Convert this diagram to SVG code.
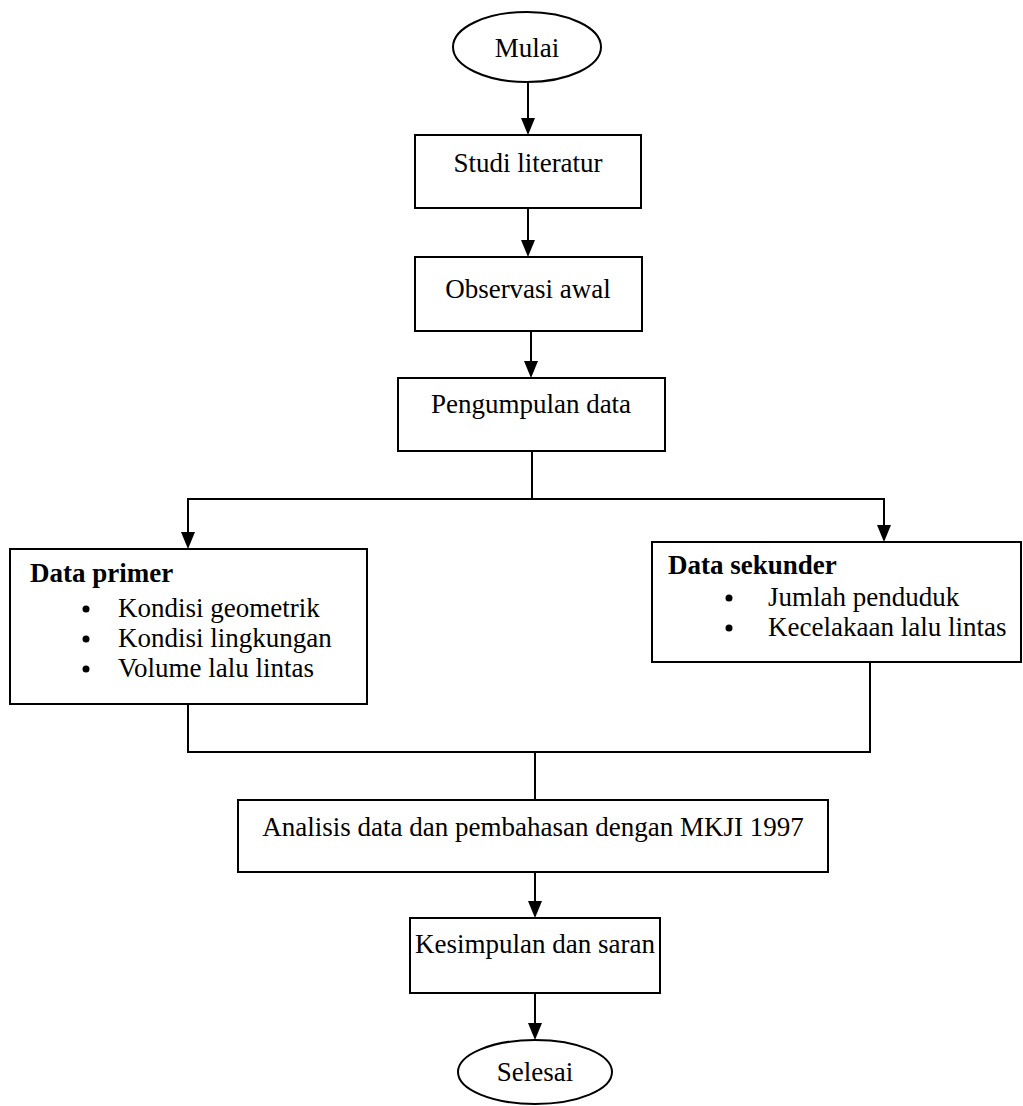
<svg xmlns="http://www.w3.org/2000/svg" width="1023" height="1106" viewBox="0 0 1023 1106">
<style>
.box{fill:#fff;stroke:#000;stroke-width:2}
.t{font-family:"Liberation Serif","Times New Roman",serif;font-size:27px;fill:#000}
.b{font-weight:bold}
.c{text-anchor:middle}
.ln{fill:none;stroke:#000;stroke-width:2}
.ah{fill:#000}
</style>
<defs>
<path id="arrow" d="M-7,-17 L7,-17 L0,0 Z"/>
</defs>
<rect width="1023" height="1106" fill="#fff"/>
<g id="connectors">
<line class="ln" x1="528" y1="82" x2="528" y2="130"/>
<line class="ln" x1="528" y1="208" x2="528" y2="252"/>
<line class="ln" x1="531" y1="331" x2="531" y2="373"/>
<polyline class="ln" points="532,451 532,499 188,499 188,544"/>
<polyline class="ln" points="532,499 884,499 884,537"/>
<polyline class="ln" points="188,704 188,752 870,752 870,662"/>
<line class="ln" x1="535" y1="752" x2="535" y2="800"/>
<line class="ln" x1="535" y1="872" x2="535" y2="913"/>
<line class="ln" x1="535" y1="993" x2="535" y2="1035"/>
<use href="#arrow" class="ah" x="528" y="135"/>
<use href="#arrow" class="ah" x="528" y="257"/>
<use href="#arrow" class="ah" x="531" y="378"/>
<use href="#arrow" class="ah" x="188" y="549"/>
<use href="#arrow" class="ah" x="884" y="542"/>
<use href="#arrow" class="ah" x="535" y="918"/>
<use href="#arrow" class="ah" x="535" y="1040"/>
</g>
<g id="mulai">
<ellipse class="box" cx="527" cy="47" rx="74" ry="35"/>
<text class="t c" x="527" y="57">Mulai</text>
</g>
<g id="studi">
<rect class="box" x="415" y="135" width="226" height="73"/>
<text class="t c" x="528" y="172">Studi literatur</text>
</g>
<g id="observasi">
<rect class="box" x="415" y="257" width="227" height="74"/>
<text class="t c" x="528" y="298">Observasi awal</text>
</g>
<g id="pengumpulan">
<rect class="box" x="398" y="378" width="267" height="73"/>
<text class="t c" x="531" y="413">Pengumpulan data</text>
</g>
<g id="primer">
<rect class="box" x="10" y="549" width="357" height="155"/>
<text class="t b" x="30" y="582">Data primer</text>
<circle cx="86" cy="609" r="3.5"/>
<text class="t" x="118" y="617">Kondisi geometrik</text>
<circle cx="86" cy="639" r="3.5"/>
<text class="t" x="118" y="647">Kondisi lingkungan</text>
<circle cx="86" cy="669" r="3.5"/>
<text class="t" x="118" y="677">Volume lalu lintas</text>
</g>
<g id="sekunder">
<rect class="box" x="652" y="542" width="369" height="120"/>
<text class="t b" x="668" y="574">Data sekunder</text>
<circle cx="729" cy="598" r="3.5"/>
<text class="t" x="768" y="606">Jumlah penduduk</text>
<circle cx="729" cy="628" r="3.5"/>
<text class="t" x="768" y="636">Kecelakaan lalu lintas</text>
</g>
<g id="analisis">
<rect class="box" x="238" y="800" width="590" height="72"/>
<text class="t c" x="533" y="836">Analisis data dan pembahasan dengan MKJI 1997</text>
</g>
<g id="kesimpulan">
<rect class="box" x="410" y="918" width="250" height="75"/>
<text class="t c" x="535" y="953">Kesimpulan dan saran</text>
</g>
<g id="selesai">
<ellipse class="box" cx="535" cy="1072" rx="77" ry="32"/>
<text class="t c" x="535" y="1081">Selesai</text>
</g>
</svg>
